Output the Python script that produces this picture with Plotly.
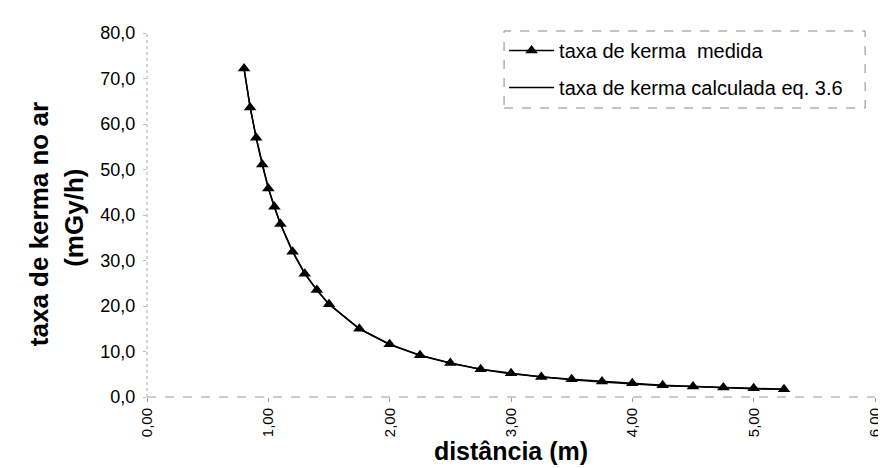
import plotly.graph_objects as go

# distância (m)
distancia = [0.80, 0.85, 0.90, 0.95, 1.00, 1.05, 1.10, 1.20, 1.30, 1.40, 1.50, 1.75,
             2.00, 2.25, 2.50, 2.75, 3.00, 3.25, 3.50, 3.75, 4.00, 4.25, 4.50, 4.75, 5.00, 5.25]
# taxa de kerma medida (mGy/h)
kerma_medida = [72.2, 63.6, 57.0, 51.1, 45.8, 41.8, 38.0, 31.9, 27.1, 23.5, 20.4, 15.0,
                11.6, 9.2, 7.5, 6.1, 5.2, 4.4, 3.9, 3.4, 3.0, 2.6, 2.3, 2.1, 1.9, 1.7]
# taxa de kerma calculada eq. 3.6 (mGy/h)
kerma_calculada = [72.0, 63.8, 56.9, 51.0, 46.0, 41.7, 38.0, 32.0, 27.2, 23.5, 20.4, 15.0,
                   11.5, 9.1, 7.4, 6.1, 5.1, 4.4, 3.8, 3.3, 2.9, 2.5, 2.3, 2.0, 1.8, 1.7]

x_ticks = [0, 1, 2, 3, 4, 5, 6]
y_ticks = [0, 10, 20, 30, 40, 50, 60, 70, 80]

FONT = "Liberation Sans, Arial, sans-serif"

fig = go.Figure()
fig.add_trace(go.Scatter(
    x=distancia, y=kerma_medida, mode="lines+markers",
    name="taxa de kerma  medida", legendgroup="a",
    line=dict(color="black", width=1.5),
    marker=dict(symbol="triangle-up", size=11, color="black"),
))
fig.add_trace(go.Scatter(
    x=distancia, y=kerma_calculada, mode="lines",
    name="taxa de kerma calculada eq. 3.6", legendgroup="b",
    line=dict(color="black", width=1.5),
))

L, T, B, R = 139, 25, 79, 11
PW, PH = 886 - L - R, 468 - T - B

fig.update_layout(
    width=886, height=468,
    margin=dict(l=L, r=R, t=T, b=B),
    paper_bgcolor="white", plot_bgcolor="white",
    separators=",.",
    font=dict(family=FONT, color="black"),
    showlegend=True,
    legend=dict(
        x=(500 - L) / PW, y=(468 - B - 23) / PH, xanchor="left", yanchor="top",
        font=dict(size=20, family=FONT, color="black"),
        bgcolor="rgba(0,0,0,0)", borderwidth=0,
        tracegroupgap=8, traceorder="grouped", itemwidth=45,
    ),
    shapes=[
        dict(type="rect", xref="paper", yref="paper",
             x0=(500 - L) / PW, x1=(865 - L) / PW,
             y0=(468 - B - 100) / PH, y1=(468 - B - 23) / PH,
             line=dict(color="#888", width=1, dash="dash")),
        dict(type="line", xref="paper", yref="paper", x0=0, x1=1, y0=0, y1=0,
             line=dict(color="#999", width=1, dash="dash"), layer="below"),
        dict(type="line", xref="paper", yref="paper", x0=0, x1=0, y0=0, y1=1,
             line=dict(color="#aaa", width=1, dash="dot"), layer="below"),
    ],
    annotations=[
        dict(text="<b>taxa de kerma no ar</b>", textangle=-90, showarrow=False,
             xref="paper", yref="paper", x=(30 - L) / PW, y=(468 - B - 216) / PH,
             xanchor="center", yanchor="middle", font=dict(size=26, family=FONT, color="black")),
        dict(text="<b>(mGy/h)</b>", textangle=-90, showarrow=False,
             xref="paper", yref="paper", x=(65 - L) / PW, y=(468 - B - 210) / PH,
             xanchor="center", yanchor="middle", font=dict(size=26, family=FONT, color="black")),
    ],
)

fig.update_xaxes(
    range=[0, 6], tickvals=x_ticks, tickformat=".2f", tickangle=-90,
    showgrid=False, zeroline=False, showline=False,
    ticks="outside", ticklen=4, tickcolor="#999",
    ticklabeloverflow="allow",
    tickfont=dict(size=15, family=FONT, color="black"),
    title=dict(text="<b>distância (m)</b>", font=dict(size=25, family=FONT), standoff=6),
)
fig.update_yaxes(
    range=[0, 80], tickvals=y_ticks, tickformat=".1f",
    showgrid=False, zeroline=False, showline=False,
    ticks="outside", ticklen=3, tickcolor="#bbb", ticklabelstandoff=4,
    tickfont=dict(size=18, family=FONT, color="black"),
)

fig.write_html("out.html")
